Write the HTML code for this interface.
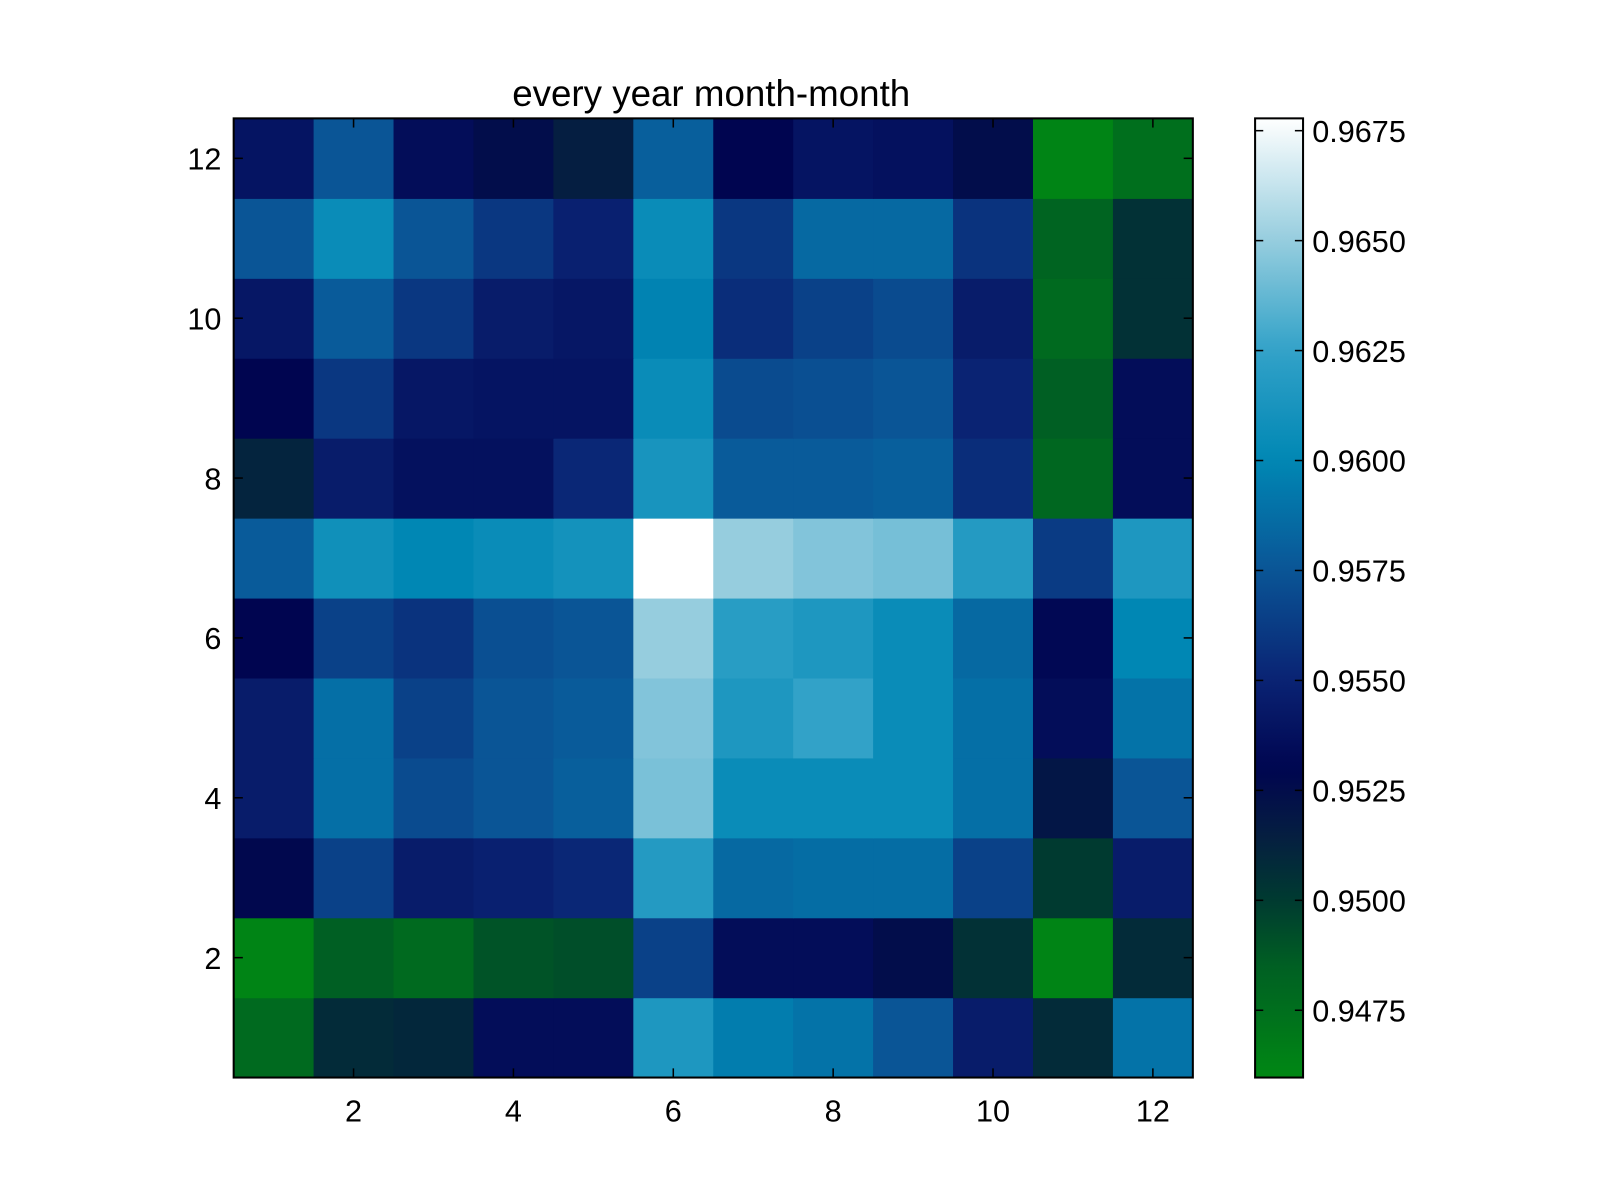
<!DOCTYPE html>
<html><head><meta charset="utf-8"><style>
html,body{margin:0;padding:0;background:#fff;}
svg{display:block;font-family:"Liberation Sans",sans-serif;}
</style></head><body>
<svg width="1600" height="1200" xmlns="http://www.w3.org/2000/svg"><g id="c" transform="scale(1.0204)"></g></svg>
<script>
const rows = [1,2,3,4,5,6,7,8,9,10,11,12];
const cols = [1,2,3,4,5,6,7,8,9,10,11,12];
const xTicks = [2,4,6,8,10,12];
const yTicks = [2,4,6,8,10,12];
const cbTicks = [0.9475,0.9500,0.9525,0.9550,0.9575,0.9600,0.9625,0.9650,0.9675];
const cbTickLabels = ["0.9475","0.9500","0.9525","0.9550","0.9575","0.9600","0.9625","0.9650","0.9675"];
// values[r] is row y=r+1 (bottom to top), columns x=1..12
const values = [
[0.9478,0.9508,0.9510,0.9535,0.9535,0.9615,0.9595,0.9590,0.9575,0.9545,0.9508,0.9590],
[0.9462,0.9485,0.9478,0.9490,0.9492,0.9565,0.9535,0.9535,0.9525,0.9505,0.9462,0.9508],
[0.9528,0.9565,0.9545,0.9548,0.9552,0.9618,0.9585,0.9587,0.9587,0.9565,0.9500,0.9545],
[0.9545,0.9588,0.9570,0.9575,0.9580,0.9643,0.9605,0.9605,0.9605,0.9588,0.9520,0.9575],
[0.9545,0.9588,0.9565,0.9575,0.9578,0.9645,0.9615,0.9625,0.9605,0.9588,0.9535,0.9590],
[0.9530,0.9565,0.9558,0.9572,0.9575,0.9650,0.9620,0.9615,0.9605,0.9585,0.9532,0.9600],
[0.9578,0.9608,0.9600,0.9605,0.9610,0.9678,0.9650,0.9645,0.9642,0.9618,0.9562,0.9615],
[0.9512,0.9545,0.9538,0.9538,0.9552,0.9612,0.9578,0.9578,0.9580,0.9555,0.9480,0.9535],
[0.9530,0.9560,0.9542,0.9540,0.9540,0.9605,0.9570,0.9572,0.9575,0.9550,0.9485,0.9535],
[0.9542,0.9578,0.9560,0.9545,0.9542,0.9598,0.9555,0.9565,0.9570,0.9545,0.9478,0.9505],
[0.9575,0.9605,0.9575,0.9560,0.9548,0.9605,0.9560,0.9585,0.9585,0.9558,0.9482,0.9505],
[0.9540,0.9575,0.9535,0.9525,0.9515,0.9580,0.9530,0.9540,0.9538,0.9525,0.9462,0.9475]
];
const vmin = 0.94597, vmax = 0.96778;
const stops = [[0.9460,[0,135,20]],[0.9485,[0,95,35]],[0.9500,[0,58,48]],[0.9515,[5,30,65]],[0.9530,[0,5,80]],[0.9550,[10,35,115]],[0.9575,[10,85,150]],[0.9600,[0,135,180]],[0.9625,[50,162,200]],[0.9650,[150,205,222]],[0.9678,[255,255,255]]];
function cmap(v){
  if(v<=stops[0][0]) return stops[0][1];
  for(let i=1;i<stops.length;i++){
    if(v<=stops[i][0]){const a=stops[i-1],b=stops[i];const t=(v-a[0])/(b[0]-a[0]);
      return a[1].map((c,k)=>Math.round(c+(b[1][k]-c)*t));}
  }
  return stops[stops.length-1][1];
}
const L=229,R=1169,T=116,B=1056;
const cw=(R-L)/12, ch=(B-T)/12;
const xs=x=>L+(x-0.5)*cw, ys=y=>B-(y-0.5)*ch;
const cbL=1230,cbR=1277;
const cby=v=>B-(v-vmin)/(vmax-vmin)*(B-T);
const svg=document.getElementById('c');const NS='http://www.w3.org/2000/svg';
function el(tag,attrs,parent){const e=document.createElementNS(NS,tag);for(const k in attrs)e.setAttribute(k,attrs[k]);(parent||svg).appendChild(e);return e;}
const g=el('g',{});


rows.forEach((ry,ri)=>cols.forEach((cx,ci)=>{
  const c=cmap(values[ri][ci]);
  const r=el('rect',{x:xs(cx)-cw/2,y:ys(ry)-ch/2,width:cw+0.6,height:ch+0.6,fill:`rgb(${c})`},g);
  
  
}));
const fr=el('rect',{x:L,y:T,width:R-L,height:B-T,fill:'none',stroke:'#000','stroke-width':2});


xTicks.forEach(t=>{
  el('line',{x1:xs(t),x2:xs(t),y1:B,y2:B-9,stroke:'#000','stroke-width':1.5});
  el('line',{x1:xs(t),x2:xs(t),y1:T,y2:T+9,stroke:'#000','stroke-width':1.5});
  const tx=el('text',{x:xs(t),y:B+43,'font-size':30,'text-anchor':'middle'});tx.textContent=t;
  
  
});
yTicks.forEach(t=>{
  el('line',{x1:L,x2:L+9,y1:ys(t),y2:ys(t),stroke:'#000','stroke-width':1.5});
  el('line',{x1:R,x2:R-9,y1:ys(t),y2:ys(t),stroke:'#000','stroke-width':1.5});
  const tx=el('text',{x:L-12,y:ys(t)+11,'font-size':30,'text-anchor':'end'});tx.textContent=t;
  
  
});
const title=el('text',{x:697,y:104,'font-size':36,'text-anchor':'middle'});title.textContent='every year month-month';


const defs=el('defs',{});
const lg=el('linearGradient',{id:'cbg',x1:0,y1:1,x2:0,y2:0},defs);
for(let i=0;i<=60;i++){const v=vmin+(vmax-vmin)*i/60;el('stop',{offset:i/60,'stop-color':`rgb(${cmap(v)})`},lg);}
const cb=el('rect',{x:cbL,y:T,width:cbR-cbL,height:B-T,fill:'url(#cbg)',stroke:'#000','stroke-width':2});


cbTicks.forEach((t,i)=>{
  el('line',{x1:cbR,x2:cbR-8,y1:cby(t),y2:cby(t),stroke:'#000','stroke-width':1.5});
  el('line',{x1:cbL,x2:cbL+8,y1:cby(t),y2:cby(t),stroke:'#000','stroke-width':1.5});
  const tx=el('text',{x:cbR+9,y:cby(t)+11,'font-size':30});tx.textContent=cbTickLabels[i];
  
  
});
</script>
</body></html>
